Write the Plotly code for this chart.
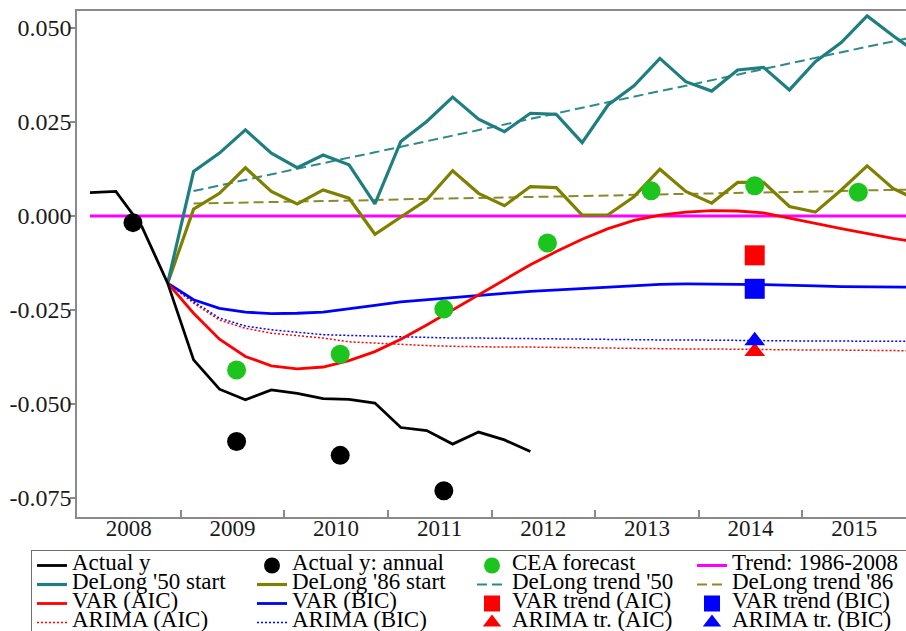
import plotly.graph_objects as go

# ---------------- data ----------------
start_year = 2008  # first quarter of the quarterly series is 2008Q1

# Actual y (2008Q1 .. 2012Q2)
actual_y = [0.0062, 0.0065, -0.0028, -0.0179, -0.0383, -0.0461, -0.0489, -0.0463, -0.0472,
            -0.0486, -0.0488, -0.0498, -0.0563, -0.0571, -0.0607, -0.0575, -0.0596, -0.0627]

# forecasts start at 2008Q4 (index 3)
forecast_start = 3
delong50 = [-0.0179, 0.0118, 0.0167, 0.0229, 0.0167, 0.0128, 0.0162, 0.0136, 0.0032, 0.0198,
            0.0251, 0.0316, 0.0257, 0.0224, 0.0273, 0.0270, 0.0195, 0.0295, 0.0346, 0.0419,
            0.0357, 0.0332, 0.0388, 0.0395, 0.0335, 0.0410, 0.0461, 0.0532, 0.0479, 0.0430]
delong86 = [-0.0179, 0.0018, 0.0060, 0.0128, 0.0065, 0.0032, 0.0069, 0.0047, -0.0049, -0.0002,
            0.0043, 0.0120, 0.0060, 0.0027, 0.0078, 0.0075, 0.0002, 0.0003, 0.0051, 0.0124,
            0.0065, 0.0034, 0.0089, 0.0089, 0.0025, 0.0010, 0.0069, 0.0133, 0.0073, 0.0040]
var_aic = [-0.0179, -0.0259, -0.0328, -0.0374, -0.0399, -0.0407, -0.0402, -0.0385, -0.0361, -0.0328,
           -0.0290, -0.0250, -0.0208, -0.0170, -0.0130, -0.0095, -0.0062, -0.0034, -0.0012, 0.0002,
           0.0010, 0.0014, 0.0013, 0.0008, -0.0005, -0.0020, -0.0034, -0.0047, -0.0060, -0.0070]
var_bic = [-0.0179, -0.0223, -0.0246, -0.0256, -0.0260, -0.0259, -0.0256, -0.0246, -0.0238, -0.0229,
           -0.0223, -0.0217, -0.0211, -0.0206, -0.0201, -0.0197, -0.0193, -0.0189, -0.0185, -0.0182,
           -0.0181, -0.0181, -0.0182, -0.0183, -0.0184, -0.0186, -0.0188, -0.0189, -0.0190, -0.0190]
arima_aic = [-0.0179, -0.0232, -0.0277, -0.0299, -0.0312, -0.0319, -0.0325, -0.0335, -0.0339, -0.0343,
             -0.0345, -0.0347, -0.0349, -0.0349, -0.0349, -0.0350, -0.0351, -0.0352, -0.0352, -0.0353,
             -0.0354, -0.0354, -0.0355, -0.0355, -0.0356, -0.0357, -0.0357, -0.0358, -0.0359, -0.0359]
arima_bic = [-0.0179, -0.0228, -0.0272, -0.0293, -0.0303, -0.0310, -0.0316, -0.0318, -0.0320, -0.0323,
             -0.0324, -0.0325, -0.0325, -0.0326, -0.0327, -0.0328, -0.0329, -0.0329, -0.0329, -0.0330,
             -0.0330, -0.0331, -0.0331, -0.0332, -0.0332, -0.0333, -0.0333, -0.0334, -0.0334, -0.0334]

# DeLong trend lines start at 2009Q1 (index 4)
trend_start = 4
delong_trend50 = [0.0066, 0.0081, 0.0095, 0.0110, 0.0125, 0.0140, 0.0155, 0.0169, 0.0184, 0.0199,
                  0.0214, 0.0228, 0.0243, 0.0258, 0.0273, 0.0287, 0.0302, 0.0317, 0.0332, 0.0346,
                  0.0361, 0.0376, 0.0391, 0.0405, 0.0420, 0.0435, 0.0450, 0.0464, 0.0479]
delong_trend86 = [0.0033, 0.0034, 0.0036, 0.0037, 0.0038, 0.0040, 0.0041, 0.0042, 0.0044, 0.0045,
                  0.0046, 0.0048, 0.0049, 0.0050, 0.0052, 0.0053, 0.0054, 0.0056, 0.0057, 0.0058,
                  0.0060, 0.0061, 0.0062, 0.0064, 0.0065, 0.0066, 0.0068, 0.0069, 0.0070]

# Trend 1986-2008 (2008Q1 .. 2016Q1)
trend_8608 = [0.0] * 33

# annual observations
annual_years = [2008, 2009, 2010, 2011]
annual_y = [-0.0018, -0.0600, -0.0637, -0.0731]
cea_years = [2009, 2010, 2011, 2012, 2013, 2014, 2015]
cea_forecast = [-0.0410, -0.0368, -0.0248, -0.0072, 0.0067, 0.0080, 0.0063]
trend_year = [2014]
var_trend_aic = [-0.0105]
var_trend_bic = [-0.0194]
arima_tr_aic = [-0.0361]
arima_tr_bic = [-0.0332]

year_ticks = [2009, 2010, 2011, 2012, 2013, 2014, 2015]
year_labels = ["2008", "2009", "2010", "2011", "2012", "2013", "2014", "2015"]
y_ticks = [-0.075, -0.050, -0.025, 0.000, 0.025, 0.050]
y_tick_labels = ["-0.075", "-0.050", "-0.025", "0.000", "0.025", "0.050"]

# ---------------- helpers ----------------
ANNUAL_OFFSET = 0.54


def qx(first_index, n):
    return [start_year + (first_index + i + 0.5) / 4 for i in range(n)]


def ax(years):
    return [y + ANNUAL_OFFSET for y in years]


def lg(name):
    return '<span style="font-size:23px">' + name + '</span>'


TEAL = "#1f7f80"
OLIVE = "#808000"
RED = "#ff0000"
BLUE = "#0000ff"
MAG = "#ff00ff"
GREEN = "#1ec41e"

fig = go.Figure()


def line(x, y, name, color, width, dash=None, rank=0):
    fig.add_trace(go.Scatter(x=x, y=y, mode="lines", name=lg(name), legendrank=rank,
                             line=dict(color=color, width=width, dash=dash),
                             hoverinfo="skip"))


def marks(x, y, name, color, symbol, size, rank=0):
    fig.add_trace(go.Scatter(x=x, y=y, mode="markers", name=lg(name), legendrank=rank,
                             marker=dict(color=color, symbol=symbol, size=size, line=dict(width=0)),
                             hoverinfo="skip"))


# drawing order (bottom to top); legendrank gives the legend order
line(qx(0, len(trend_8608)), trend_8608, "Trend: 1986-2008", MAG, 3, rank=4)
line(qx(forecast_start, len(arima_aic)), arima_aic, "ARIMA (AIC)", RED, 1.5, "2px,2px", rank=13)
line(qx(forecast_start, len(arima_bic)), arima_bic, "ARIMA (BIC)", BLUE, 1.5, "2px,2px", rank=14)
line(qx(trend_start, len(delong_trend50)), delong_trend50, "DeLong trend '50", "#2e8a8a", 2, "10px,5px", rank=7)
line(qx(trend_start, len(delong_trend86)), delong_trend86, "DeLong trend '86", "#8a8a2a", 2, "10px,5px", rank=8)
line(qx(forecast_start, len(var_bic)), var_bic, "VAR (BIC)", BLUE, 2.8, rank=10)
line(qx(forecast_start, len(var_aic)), var_aic, "VAR (AIC)", RED, 2.8, rank=9)
line(qx(forecast_start, len(delong86)), delong86, "DeLong '86 start", OLIVE, 3.2, rank=6)
line(qx(forecast_start, len(delong50)), delong50, "DeLong '50 start", TEAL, 3.2, rank=5)
line(qx(0, len(actual_y)), actual_y, "Actual y", "black", 2.8, rank=1)
marks(ax(annual_years), annual_y, "Actual y: annual", "black", "circle", 19, rank=2)
marks(ax(cea_years), cea_forecast, "CEA forecast", GREEN, "circle", 19, rank=3)
marks(ax(trend_year), var_trend_aic, "VAR trend (AIC)", RED, "square", 20, rank=11)
marks(ax(trend_year), var_trend_bic, "VAR trend (BIC)", BLUE, "square", 20, rank=12)
marks(ax(trend_year), arima_tr_aic, "ARIMA tr. (AIC)", RED, "triangle-up", 18, rank=15)
marks(ax(trend_year), arima_tr_bic, "ARIMA tr. (BIC)", BLUE, "triangle-up", 18, rank=16)

FRAME = "#8a8a8a"
fig.update_layout(
    width=906, height=631,
    margin=dict(l=77, r=0, t=11, b=114, autoexpand=False),
    plot_bgcolor="white", paper_bgcolor="white",
    font=dict(family="Liberation Serif", size=23, color="#1a1a1a"),
    showlegend=True,
    legend=dict(orientation="h", xref="paper", yref="paper",
                x=(31 - 77) / 829, xanchor="left",
                y=-(550 - 517) / 506, yanchor="top",
                font=dict(size=12, family="Liberation Serif", color="black"),
                entrywidth=175, entrywidthmode="pixels",
                bordercolor="#6e6e6e", borderwidth=1, bgcolor="white",
                tracegroupgap=0),
    xaxis=dict(range=[2008, 2016],
               tickmode="array",
               tickvals=[int(y) + 0.5 for y in year_labels], ticktext=year_labels,
               ticks="", showline=True, linecolor=FRAME, linewidth=1.5, mirror=True,
               showgrid=False, zeroline=False, ticklabelstandoff=-10,
               minor=dict(tickmode="array", tickvals=year_ticks, ticks="inside",
                          ticklen=7, tickwidth=1.5, tickcolor=FRAME, showgrid=False),
               tickfont=dict(size=23)),
    yaxis=dict(range=[-0.0801, 0.0545], tickmode="array",
               tickvals=y_ticks, ticktext=y_tick_labels,
               ticks="outside", ticklen=5, tickwidth=1.5, tickcolor=FRAME,
               showline=True, linecolor=FRAME, linewidth=1.5, mirror=False,
               showgrid=False, zeroline=False, ticklabelstandoff=-6,
               tickfont=dict(size=24)),
)

fig.write_html("out.html",
               config={"displayModeBar": False},
               post_script="document.body.style.margin='0';document.body.style.overflow='hidden';")
